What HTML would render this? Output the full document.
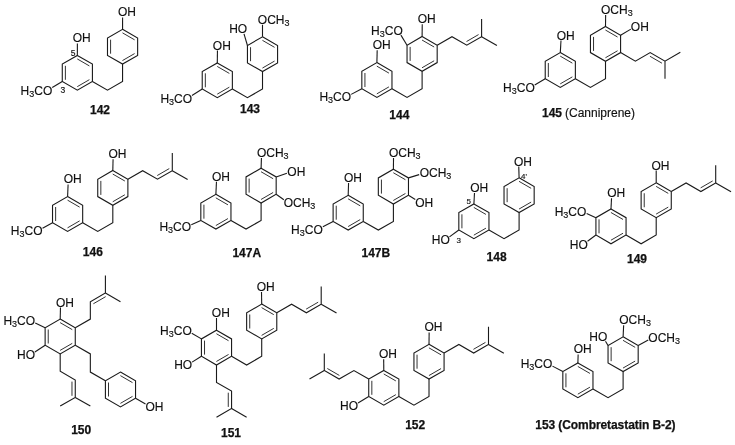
<!DOCTYPE html>
<html><head><meta charset="utf-8"><style>
html,body{margin:0;padding:0;background:#fff;width:735px;height:445px;overflow:hidden}
svg{display:block;will-change:transform}
.i{stroke:#333;stroke-width:1.0px}
text{font-family:"Liberation Sans",sans-serif;font-size:12px;fill:#111;stroke:#111;stroke-width:0.15px}
text[font-weight=bold]{stroke-width:0.25px}
</style></head><body>
<svg width="735" height="445" viewBox="0 0 735 445">
<g fill="none" stroke="#1a1a1a" stroke-width="1.10" stroke-linejoin="miter" stroke-linecap="butt">
<polygon points="77.35,55.40 92.42,64.10 92.42,81.50 77.35,90.20 62.28,81.50 62.28,64.10"/>
<line class="i" x1="77.27" y1="58.93" x2="89.40" y2="65.93"/>
<line class="i" x1="89.40" y1="79.67" x2="77.27" y2="86.67"/>
<line class="i" x1="65.38" y1="79.80" x2="65.38" y2="65.80"/>
<polygon points="122.56,29.30 137.63,38.00 137.63,55.40 122.56,64.10 107.49,55.40 107.49,38.00"/>
<line class="i" x1="122.48" y1="32.83" x2="134.60" y2="39.83"/>
<line class="i" x1="134.60" y1="53.57" x2="122.48" y2="60.57"/>
<line class="i" x1="110.59" y1="53.70" x2="110.59" y2="39.70"/>
<polyline points="92.42,81.50 107.49,90.20 122.56,81.50 122.56,64.10"/>
<line x1="77.35" y1="55.40" x2="77.38" y2="43.40"/>
<line x1="122.56" y1="29.30" x2="122.59" y2="17.40"/>
<line x1="62.28" y1="81.50" x2="52.23" y2="87.52"/>
<polygon points="217.30,62.90 232.37,71.60 232.37,89.00 217.30,97.70 202.23,89.00 202.23,71.60"/>
<line class="i" x1="217.22" y1="66.43" x2="229.35" y2="73.43"/>
<line class="i" x1="229.35" y1="87.17" x2="217.22" y2="94.17"/>
<line class="i" x1="205.33" y1="87.30" x2="205.33" y2="73.30"/>
<polygon points="262.51,36.80 277.58,45.50 277.58,62.90 262.51,71.60 247.44,62.90 247.44,45.50"/>
<line class="i" x1="262.43" y1="40.33" x2="274.55" y2="47.33"/>
<line class="i" x1="274.55" y1="61.07" x2="262.43" y2="68.07"/>
<line class="i" x1="250.54" y1="61.20" x2="250.54" y2="47.20"/>
<polyline points="232.37,89.00 247.44,97.70 262.51,89.00 262.51,71.60"/>
<line x1="217.30" y1="62.90" x2="217.44" y2="50.60"/>
<line x1="262.51" y1="36.80" x2="262.50" y2="24.70"/>
<line x1="247.44" y1="45.50" x2="244.01" y2="33.78"/>
<line x1="202.23" y1="89.00" x2="191.97" y2="95.43"/>
<polygon points="376.90,62.60 391.97,71.30 391.97,88.70 376.90,97.40 361.83,88.70 361.83,71.30"/>
<line class="i" x1="376.82" y1="66.13" x2="388.95" y2="73.13"/>
<line class="i" x1="388.95" y1="86.87" x2="376.82" y2="93.87"/>
<line class="i" x1="364.93" y1="87.00" x2="364.93" y2="73.00"/>
<polygon points="422.11,36.50 437.18,45.20 437.18,62.60 422.11,71.30 407.04,62.60 407.04,45.20"/>
<line class="i" x1="422.03" y1="40.03" x2="434.15" y2="47.03"/>
<line class="i" x1="434.15" y1="60.77" x2="422.03" y2="67.77"/>
<line class="i" x1="410.14" y1="60.90" x2="410.14" y2="46.90"/>
<polyline points="391.97,88.70 407.04,97.40 422.11,88.70 422.11,71.30"/>
<line x1="376.90" y1="62.60" x2="377.18" y2="50.30"/>
<line x1="361.83" y1="88.70" x2="351.17" y2="94.37"/>
<line x1="422.11" y1="36.50" x2="422.24" y2="24.20"/>
<line x1="407.04" y1="45.20" x2="400.91" y2="35.11"/>
<polyline points="437.18,45.20 451.98,36.65 466.79,45.20 481.60,36.65 481.60,18.95"/>
<line x1="481.60" y1="36.65" x2="496.93" y2="45.50"/>
<line class="i" x1="466.53" y1="41.54" x2="478.57" y2="34.59"/>
<polygon points="560.30,52.60 575.37,61.30 575.37,78.70 560.30,87.40 545.23,78.70 545.23,61.30"/>
<line class="i" x1="560.22" y1="56.13" x2="572.35" y2="63.13"/>
<line class="i" x1="572.35" y1="76.87" x2="560.22" y2="83.87"/>
<line class="i" x1="548.33" y1="77.00" x2="548.33" y2="63.00"/>
<polygon points="605.51,26.50 620.58,35.20 620.58,52.60 605.51,61.30 590.44,52.60 590.44,35.20"/>
<line class="i" x1="605.43" y1="30.03" x2="617.55" y2="37.03"/>
<line class="i" x1="617.55" y1="50.77" x2="605.43" y2="57.77"/>
<line class="i" x1="593.54" y1="50.90" x2="593.54" y2="36.90"/>
<polyline points="575.37,78.70 590.44,87.40 605.51,78.70 605.51,61.30"/>
<line x1="560.30" y1="52.60" x2="560.99" y2="40.59"/>
<line x1="545.23" y1="78.70" x2="534.71" y2="85.09"/>
<line x1="605.51" y1="26.50" x2="605.64" y2="14.90"/>
<line x1="620.58" y1="35.20" x2="630.85" y2="29.14"/>
<polyline points="620.58,52.60 635.38,61.15 650.19,52.60 665.00,61.15 680.33,52.30"/>
<line x1="665.00" y1="61.15" x2="665.00" y2="78.85"/>
<line class="i" x1="649.93" y1="56.26" x2="661.97" y2="63.21"/>
<polygon points="67.60,196.60 82.67,205.30 82.67,222.70 67.60,231.40 52.53,222.70 52.53,205.30"/>
<line class="i" x1="67.52" y1="200.13" x2="79.65" y2="207.13"/>
<line class="i" x1="79.65" y1="220.87" x2="67.52" y2="227.87"/>
<line class="i" x1="55.63" y1="221.00" x2="55.63" y2="207.00"/>
<polygon points="112.81,170.50 127.88,179.20 127.88,196.60 112.81,205.30 97.74,196.60 97.74,179.20"/>
<line class="i" x1="112.73" y1="174.03" x2="124.85" y2="181.03"/>
<line class="i" x1="124.85" y1="194.77" x2="112.73" y2="201.77"/>
<line class="i" x1="100.84" y1="194.90" x2="100.84" y2="180.90"/>
<polyline points="82.67,222.70 97.74,231.40 112.81,222.70 112.81,205.30"/>
<line x1="67.60" y1="196.60" x2="68.09" y2="184.40"/>
<line x1="52.53" y1="222.70" x2="42.53" y2="228.20"/>
<line x1="112.81" y1="170.50" x2="113.07" y2="159.20"/>
<polyline points="127.88,179.20 142.68,170.65 157.49,179.20 172.30,170.65 172.30,152.95"/>
<line x1="172.30" y1="170.65" x2="187.63" y2="179.50"/>
<line class="i" x1="157.23" y1="175.54" x2="169.27" y2="168.59"/>
<polygon points="215.89,194.30 230.96,203.00 230.96,220.40 215.89,229.10 200.82,220.40 200.82,203.00"/>
<line class="i" x1="215.82" y1="197.83" x2="227.94" y2="204.83"/>
<line class="i" x1="227.94" y1="218.57" x2="215.82" y2="225.57"/>
<line class="i" x1="203.92" y1="218.70" x2="203.92" y2="204.70"/>
<polygon points="261.10,168.20 276.17,176.90 276.17,194.30 261.10,203.00 246.03,194.30 246.03,176.90"/>
<line class="i" x1="261.02" y1="171.73" x2="273.15" y2="178.73"/>
<line class="i" x1="273.15" y1="192.47" x2="261.02" y2="199.47"/>
<line class="i" x1="249.13" y1="192.60" x2="249.13" y2="178.60"/>
<polyline points="230.96,220.40 246.03,229.10 261.10,220.40 261.10,203.00"/>
<line x1="215.89" y1="194.30" x2="216.46" y2="181.79"/>
<line x1="200.82" y1="220.40" x2="191.30" y2="224.83"/>
<line x1="261.10" y1="168.20" x2="261.43" y2="157.90"/>
<line x1="276.17" y1="176.90" x2="286.89" y2="173.24"/>
<line x1="276.17" y1="194.30" x2="283.88" y2="199.70"/>
<polygon points="348.19,195.30 363.26,204.00 363.26,221.40 348.19,230.10 333.12,221.40 333.12,204.00"/>
<line class="i" x1="348.12" y1="198.83" x2="360.24" y2="205.83"/>
<line class="i" x1="360.24" y1="219.57" x2="348.12" y2="226.57"/>
<line class="i" x1="336.22" y1="219.70" x2="336.22" y2="205.70"/>
<polygon points="393.40,169.20 408.47,177.90 408.47,195.30 393.40,204.00 378.33,195.30 378.33,177.90"/>
<line class="i" x1="393.32" y1="172.73" x2="405.45" y2="179.73"/>
<line class="i" x1="405.45" y1="193.47" x2="393.32" y2="200.47"/>
<line class="i" x1="381.43" y1="193.60" x2="381.43" y2="179.60"/>
<polyline points="363.26,221.40 378.33,230.10 393.40,221.40 393.40,204.00"/>
<line x1="348.19" y1="195.30" x2="348.55" y2="182.90"/>
<line x1="333.12" y1="221.40" x2="322.89" y2="226.71"/>
<line x1="393.40" y1="169.20" x2="393.53" y2="158.00"/>
<line x1="408.47" y1="177.90" x2="419.14" y2="174.60"/>
<line x1="408.47" y1="195.30" x2="415.28" y2="199.41"/>
<polygon points="473.89,203.90 488.96,212.60 488.96,230.00 473.89,238.70 458.82,230.00 458.82,212.60"/>
<line class="i" x1="473.82" y1="207.43" x2="485.94" y2="214.43"/>
<line class="i" x1="485.94" y1="228.17" x2="473.82" y2="235.17"/>
<line class="i" x1="461.92" y1="228.30" x2="461.92" y2="214.30"/>
<polygon points="519.10,177.80 534.17,186.50 534.17,203.90 519.10,212.60 504.03,203.90 504.03,186.50"/>
<line class="i" x1="519.02" y1="181.33" x2="531.15" y2="188.33"/>
<line class="i" x1="531.15" y1="202.07" x2="519.02" y2="209.07"/>
<line class="i" x1="507.13" y1="202.20" x2="507.13" y2="188.20"/>
<polyline points="488.96,230.00 504.03,238.70 519.10,230.00 519.10,212.60"/>
<line x1="473.89" y1="203.90" x2="474.50" y2="193.09"/>
<line x1="458.82" y1="230.00" x2="449.46" y2="236.82"/>
<line x1="519.10" y1="177.80" x2="518.76" y2="166.60"/>
<polygon points="610.99,208.95 626.06,217.65 626.06,235.05 610.99,243.75 595.92,235.05 595.92,217.65"/>
<line class="i" x1="610.92" y1="212.48" x2="623.04" y2="219.48"/>
<line class="i" x1="623.04" y1="233.22" x2="610.92" y2="240.22"/>
<line class="i" x1="599.02" y1="233.35" x2="599.02" y2="219.35"/>
<polygon points="656.20,182.85 671.27,191.55 671.27,208.95 656.20,217.65 641.13,208.95 641.13,191.55"/>
<line class="i" x1="656.12" y1="186.38" x2="668.25" y2="193.38"/>
<line class="i" x1="668.25" y1="207.12" x2="656.12" y2="214.12"/>
<line class="i" x1="644.23" y1="207.25" x2="644.23" y2="193.25"/>
<polyline points="626.06,235.05 641.13,243.75 656.20,235.05 656.20,217.65"/>
<line x1="610.99" y1="208.95" x2="611.53" y2="198.29"/>
<line x1="595.92" y1="217.65" x2="586.64" y2="213.57"/>
<line x1="595.92" y1="235.05" x2="587.55" y2="241.20"/>
<line x1="656.20" y1="182.85" x2="656.20" y2="170.60"/>
<polyline points="671.27,191.55 686.08,183.00 700.89,191.55 715.70,183.00 715.70,165.30"/>
<line x1="715.70" y1="183.00" x2="731.02" y2="191.85"/>
<line class="i" x1="700.62" y1="187.89" x2="712.66" y2="180.94"/>
<polygon points="60.20,319.10 75.27,327.80 75.27,345.20 60.20,353.90 45.13,345.20 45.13,327.80"/>
<line class="i" x1="60.12" y1="322.63" x2="72.25" y2="329.63"/>
<line class="i" x1="72.25" y1="343.37" x2="60.12" y2="350.37"/>
<line class="i" x1="48.23" y1="343.50" x2="48.23" y2="329.50"/>
<line x1="60.20" y1="319.10" x2="60.47" y2="307.60"/>
<line x1="45.13" y1="327.80" x2="35.25" y2="322.97"/>
<line x1="45.13" y1="345.20" x2="34.90" y2="352.01"/>
<polyline points="75.27,327.80 90.34,319.10 90.34,301.70 105.41,293.00 105.41,275.60"/>
<line x1="105.41" y1="293.00" x2="120.48" y2="301.70"/>
<line class="i" x1="93.37" y1="303.76" x2="105.67" y2="296.66"/>
<polyline points="60.20,353.90 60.20,371.30 75.27,380.00 75.27,397.40 60.20,406.10"/>
<line x1="75.27" y1="397.40" x2="90.34" y2="406.10"/>
<line class="i" x1="71.97" y1="381.60" x2="71.97" y2="395.80"/>
<polyline points="75.27,345.20 90.34,353.90 90.34,372.10 105.41,380.80"/>
<polygon points="120.48,372.10 135.54,380.80 135.54,398.20 120.48,406.90 105.41,398.20 105.41,380.80"/>
<line class="i" x1="120.40" y1="375.63" x2="132.52" y2="382.63"/>
<line class="i" x1="132.52" y1="396.37" x2="120.40" y2="403.37"/>
<line class="i" x1="108.51" y1="396.50" x2="108.51" y2="382.50"/>
<line x1="135.54" y1="398.20" x2="145.51" y2="403.91"/>
<polygon points="216.50,330.20 231.57,338.90 231.57,356.30 216.50,365.00 201.43,356.30 201.43,338.90"/>
<line class="i" x1="216.42" y1="333.73" x2="228.55" y2="340.73"/>
<line class="i" x1="228.55" y1="354.47" x2="216.42" y2="361.47"/>
<line class="i" x1="204.53" y1="354.60" x2="204.53" y2="340.60"/>
<line x1="216.50" y1="330.20" x2="216.50" y2="318.00"/>
<line x1="201.43" y1="338.90" x2="191.76" y2="333.23"/>
<line x1="201.43" y1="356.30" x2="192.08" y2="362.14"/>
<polyline points="216.50,365.00 216.50,382.40 231.57,391.10 231.57,408.50 216.50,417.20"/>
<line x1="231.57" y1="408.50" x2="246.64" y2="417.20"/>
<line class="i" x1="228.27" y1="392.70" x2="228.27" y2="406.90"/>
<polyline points="231.57,356.30 246.64,365.00 261.71,356.30 261.71,338.90"/>
<polygon points="261.71,304.10 276.78,312.80 276.78,330.20 261.71,338.90 246.64,330.20 246.64,312.80"/>
<line class="i" x1="261.63" y1="307.63" x2="273.75" y2="314.63"/>
<line class="i" x1="273.75" y1="328.37" x2="261.63" y2="335.37"/>
<line class="i" x1="249.74" y1="328.50" x2="249.74" y2="314.50"/>
<line x1="261.71" y1="304.10" x2="261.50" y2="292.10"/>
<polyline points="276.78,312.80 291.58,304.25 306.39,312.80 321.20,304.25 321.20,286.55"/>
<line x1="321.20" y1="304.25" x2="336.53" y2="313.10"/>
<line class="i" x1="306.13" y1="309.14" x2="318.17" y2="302.19"/>
<polygon points="383.80,370.40 398.87,379.10 398.87,396.50 383.80,405.20 368.73,396.50 368.73,379.10"/>
<line class="i" x1="383.72" y1="373.93" x2="395.85" y2="380.93"/>
<line class="i" x1="395.85" y1="394.67" x2="383.72" y2="401.67"/>
<line class="i" x1="371.83" y1="394.80" x2="371.83" y2="380.80"/>
<line x1="383.80" y1="370.40" x2="383.67" y2="359.30"/>
<line x1="368.73" y1="396.50" x2="358.02" y2="403.00"/>
<polyline points="368.73,379.10 353.92,370.55 339.11,379.10 324.30,370.55 324.30,353.45"/>
<line x1="324.30" y1="370.55" x2="309.50" y2="379.10"/>
<line class="i" x1="339.38" y1="375.44" x2="327.34" y2="368.49"/>
<polyline points="398.87,396.50 413.94,405.20 429.01,396.50 429.01,379.10"/>
<polygon points="429.01,344.30 444.08,353.00 444.08,370.40 429.01,379.10 413.94,370.40 413.94,353.00"/>
<line class="i" x1="428.93" y1="347.83" x2="441.05" y2="354.83"/>
<line class="i" x1="441.05" y1="368.57" x2="428.93" y2="375.57"/>
<line class="i" x1="417.04" y1="368.70" x2="417.04" y2="354.70"/>
<line x1="429.01" y1="344.30" x2="429.14" y2="332.50"/>
<polyline points="444.08,353.00 458.88,344.45 473.69,353.00 488.50,344.45 488.50,326.75"/>
<line x1="488.50" y1="344.45" x2="503.83" y2="353.30"/>
<line class="i" x1="473.43" y1="349.34" x2="485.47" y2="342.39"/>
<polygon points="577.90,362.90 592.97,371.60 592.97,389.00 577.90,397.70 562.83,389.00 562.83,371.60"/>
<line class="i" x1="577.82" y1="366.43" x2="589.95" y2="373.43"/>
<line class="i" x1="589.95" y1="387.17" x2="577.82" y2="394.17"/>
<line class="i" x1="565.93" y1="387.30" x2="565.93" y2="373.30"/>
<line x1="577.90" y1="362.90" x2="578.14" y2="354.40"/>
<line x1="562.83" y1="371.60" x2="552.47" y2="366.12"/>
<polyline points="592.97,389.00 608.04,397.70 623.11,389.00 623.11,371.60"/>
<polygon points="623.11,336.80 638.18,345.50 638.18,362.90 623.11,371.60 608.04,362.90 608.04,345.50"/>
<line class="i" x1="623.03" y1="340.33" x2="635.15" y2="347.33"/>
<line class="i" x1="635.15" y1="361.07" x2="623.03" y2="368.07"/>
<line class="i" x1="611.14" y1="361.20" x2="611.14" y2="347.20"/>
<line x1="608.04" y1="345.50" x2="605.50" y2="341.32"/>
<line x1="623.11" y1="336.80" x2="623.65" y2="325.19"/>
<line x1="638.18" y1="345.50" x2="648.25" y2="340.06"/>
</g>
<g>
<text x="72.73" y="42.37">OH</text>
<text x="117.93" y="16.37">OH</text>
<text x="52.27" y="94.67" text-anchor="end">H<tspan style="font-size:9px" dy="2.0">3</tspan><tspan dy="-2.0">CO</tspan></text>
<text x="60.50" y="92.90" style="font-size:8.5px">3</text>
<text x="70.70" y="55.50" style="font-size:8.5px">5</text>
<text x="90.00" y="113.90" font-weight="bold">142</text>
<text x="212.83" y="49.57">OH</text>
<text x="257.83" y="23.67">OCH<tspan style="font-size:9px" dy="2.0">3</tspan><tspan dy="-2.0"></tspan></text>
<text x="247.17" y="32.97" text-anchor="end">HO</text>
<text x="192.07" y="102.67" text-anchor="end">H<tspan style="font-size:9px" dy="2.0">3</tspan><tspan dy="-2.0">CO</tspan></text>
<text x="240.00" y="112.60" font-weight="bold">143</text>
<text x="372.63" y="49.27">OH</text>
<text x="351.07" y="101.27" text-anchor="end">H<tspan style="font-size:9px" dy="2.0">3</tspan><tspan dy="-2.0">CO</tspan></text>
<text x="417.63" y="23.17">OH</text>
<text x="402.77" y="34.87" text-anchor="end">H<tspan style="font-size:9px" dy="2.0">3</tspan><tspan dy="-2.0">CO</tspan></text>
<text x="389.30" y="118.60" font-weight="bold">144</text>
<text x="556.63" y="39.57">OH</text>
<text x="534.77" y="92.27" text-anchor="end">H<tspan style="font-size:9px" dy="2.0">3</tspan><tspan dy="-2.0">CO</tspan></text>
<text x="601.03" y="13.87">OCH<tspan style="font-size:9px" dy="2.0">3</tspan><tspan dy="-2.0"></tspan></text>
<text x="630.83" y="30.77">OH</text>
<text x="542.00" y="117.30" font-weight="bold">145</text>
<text x="565.00" y="117.40">(Canniprene)</text>
<text x="63.63" y="183.37">OH</text>
<text x="42.47" y="235.17" text-anchor="end">H<tspan style="font-size:9px" dy="2.0">3</tspan><tspan dy="-2.0">CO</tspan></text>
<text x="108.53" y="158.17">OH</text>
<text x="82.80" y="255.80" font-weight="bold">146</text>
<text x="212.03" y="180.77">OH</text>
<text x="191.07" y="231.47" text-anchor="end">H<tspan style="font-size:9px" dy="2.0">3</tspan><tspan dy="-2.0">CO</tspan></text>
<text x="256.93" y="156.87">OCH<tspan style="font-size:9px" dy="2.0">3</tspan><tspan dy="-2.0"></tspan></text>
<text x="287.33" y="175.87">OH</text>
<text x="283.63" y="207.17">OCH<tspan style="font-size:9px" dy="2.0">3</tspan><tspan dy="-2.0"></tspan></text>
<text x="232.40" y="256.90" font-weight="bold">147A</text>
<text x="344.03" y="181.87">OH</text>
<text x="322.77" y="233.57" text-anchor="end">H<tspan style="font-size:9px" dy="2.0">3</tspan><tspan dy="-2.0">CO</tspan></text>
<text x="388.93" y="156.97">OCH<tspan style="font-size:9px" dy="2.0">3</tspan><tspan dy="-2.0"></tspan></text>
<text x="419.63" y="177.37">OCH<tspan style="font-size:9px" dy="2.0">3</tspan><tspan dy="-2.0"></tspan></text>
<text x="415.23" y="206.57">OH</text>
<text x="361.50" y="257.20" font-weight="bold">147B</text>
<text x="470.13" y="192.07">OH</text>
<text x="449.77" y="244.37" text-anchor="end">HO</text>
<text x="513.93" y="165.57">OH</text>
<text x="466.60" y="203.60" style="font-size:8px">5</text>
<text x="456.60" y="243.00" style="font-size:8px">3</text>
<text x="521.00" y="179.00" style="font-size:8px">4'</text>
<text x="486.60" y="260.90" font-weight="bold">148</text>
<text x="607.13" y="197.27">OH</text>
<text x="586.37" y="215.77" text-anchor="end">H<tspan style="font-size:9px" dy="2.0">3</tspan><tspan dy="-2.0">CO</tspan></text>
<text x="587.87" y="248.77" text-anchor="end">HO</text>
<text x="651.53" y="169.57">OH</text>
<text x="627.00" y="263.10" font-weight="bold">149</text>
<text x="55.93" y="306.57">OH</text>
<text x="35.07" y="324.97" text-anchor="end">H<tspan style="font-size:9px" dy="2.0">3</tspan><tspan dy="-2.0">CO</tspan></text>
<text x="35.07" y="359.37" text-anchor="end">HO</text>
<text x="145.53" y="410.97">OH</text>
<text x="71.20" y="433.90" font-weight="bold">150</text>
<text x="211.83" y="316.97">OH</text>
<text x="191.77" y="334.87" text-anchor="end">H<tspan style="font-size:9px" dy="2.0">3</tspan><tspan dy="-2.0">CO</tspan></text>
<text x="192.17" y="369.37" text-anchor="end">HO</text>
<text x="256.73" y="291.07">OH</text>
<text x="221.00" y="436.50" font-weight="bold">151</text>
<text x="378.93" y="358.27">OH</text>
<text x="358.07" y="410.17" text-anchor="end">HO</text>
<text x="424.53" y="331.47">OH</text>
<text x="405.20" y="429.40" font-weight="bold">152</text>
<text x="573.63" y="353.37">OH</text>
<text x="552.37" y="367.97" text-anchor="end">H<tspan style="font-size:9px" dy="2.0">3</tspan><tspan dy="-2.0">CO</tspan></text>
<text x="607.37" y="341.07" text-anchor="end">HO</text>
<text x="619.23" y="324.17">OCH<tspan style="font-size:9px" dy="2.0">3</tspan><tspan dy="-2.0"></tspan></text>
<text x="648.33" y="341.87">OCH<tspan style="font-size:9px" dy="2.0">3</tspan><tspan dy="-2.0"></tspan></text>
<text x="535.30" y="429.40" font-weight="bold" letter-spacing="-0.08">153 (Combretastatin B-2)</text>
</g>
</svg>
</body></html>
